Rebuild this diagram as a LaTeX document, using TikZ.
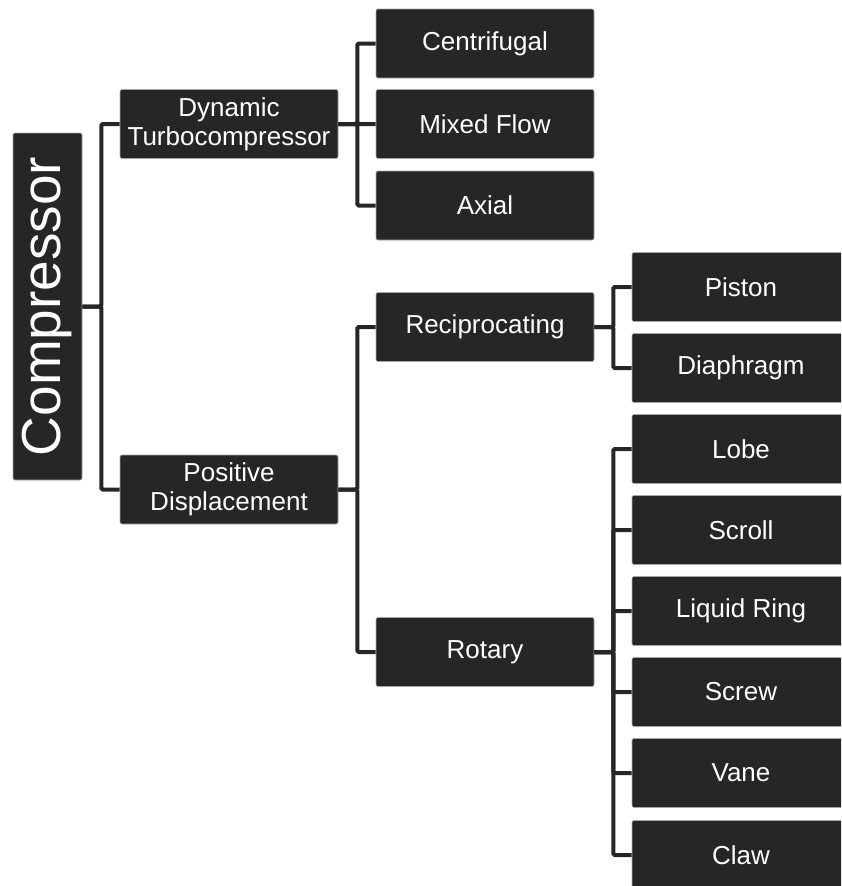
\documentclass[tikz,border=0pt]{standalone}
\usepackage{fontspec}
\setmainfont{Liberation Sans}
\usepackage{graphicx}
\usetikzlibrary{calc,positioning}
\definecolor{boxgray}{HTML}{262626}

\begin{document}
\begin{tikzpicture}[x=1pt,y=-1pt]

\tikzset{
item/.style={fill=boxgray,draw=black!35,line width=0.6pt,rounded corners=2pt,text=white,minimum width=218pt,minimum height=69pt,inner sep=0pt,align=center,font=\fontsize{26}{29}\selectfont},
rootitem/.style={item,minimum width=69pt,minimum height=347pt,font=\fontsize{55}{60}\selectfont},
branch/.style={draw=boxgray,line width=4pt,rounded corners=1.5pt}
}

\useasboundingbox (0,0) rectangle (841,886);
\clip (0,0) rectangle (841,886);

% Nodes
\node[rootitem] (comp) at (47.5,306.5) {\rotatebox{90}{Compressor}};

\node[item] (dyn) at (229,124) {Dynamic\\Turbocompressor};
\node[item] (posd) at (229,489.5) {Positive\\Displacement};

\node[item] (centri) at (485,43.5) {Centrifugal};
\node[item] (mixed) at (485,124) {Mixed Flow};
\node[item] (axial) at (485,205.5) {Axial};

\node[item] (recip) at (485,327) {Reciprocating};
\node[item] (rotary) at (485,652) {Rotary};

\node[item] (piston) at (741,287) {Piston};
\node[item] (diaph) at (741,368) {Diaphragm};

\node[item] (lobe) at (741,449) {Lobe};
\node[item] (scroll) at (741,530) {Scroll};
\node[item] (liquid) at (741,611) {Liquid Ring};
\node[item] (screw) at (741,692) {Screw};
\node[item] (vane) at (741,773) {Vane};
\node[item] (claw) at (741,855) {Claw};


% Branches
\draw[branch] (comp.east) -- ++(19,0) |- (dyn.west);
\draw[branch] (comp.east) -- ++(19,0) |- (posd.west);

\foreach \c in {centri,mixed,axial}
  \draw[branch] (dyn.east) -- ++(19,0) |- (\c.west);

\foreach \c in {recip,rotary}
  \draw[branch] (posd.east) -- ++(19,0) |- (\c.west);

\foreach \c in {piston,diaph}
  \draw[branch] (recip.east) -- ++(19,0) |- (\c.west);

\foreach \c in {lobe,scroll,liquid,screw,vane,claw}
  \draw[branch] (rotary.east) -- ++(19,0) |- (\c.west);

\end{tikzpicture}
\end{document}
